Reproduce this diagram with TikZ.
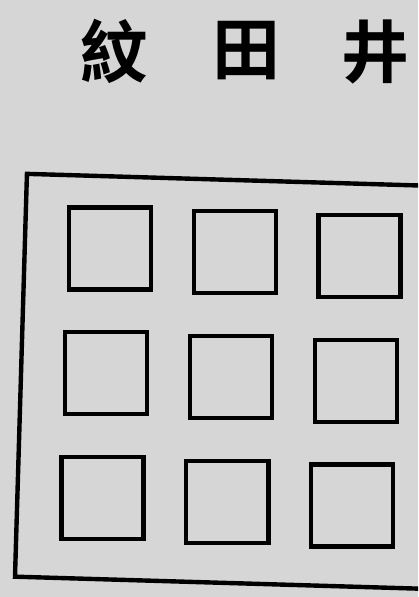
\documentclass[tikz,border=0pt]{standalone}
\usepackage{fontspec}
\newfontfamily\cjk{Noto Sans CJK TC}[BoldFont={Noto Sans CJK TC Bold}]
\usepackage{tikz}

\definecolor{paper}{RGB}{214,214,214}

\begin{document}
\begin{tikzpicture}[x=0.5pt,y=-0.5pt,
  title/.style={font=\cjk\bfseries\fontsize{34}{34}\selectfont,inner sep=0pt},
  cell/.style={draw,line width=2.2pt,minimum size=41pt,inner sep=0pt}]
  \def\W{418}
  \def\H{597}
  \def\P{125}  % 方格间距
  \def\Cx{231}
  \def\Cy{377}

  % 背景
  \fill[paper] (0,0) rectangle (\W,\H);
  \useasboundingbox (0,0) rectangle (\W,\H);
  \clip (0,0) rectangle (\W,\H);

  % 标题
  \node[title] (wen)  at (114,51) {紋};
  \node[title] (tian) at (246,51) {田};
  \node[title] (jing) at (375,52) {井};

  % ================= 外框与九格 (略有倾斜) =================
  \begin{scope}[rotate around={-1.7:(\Cx,\Cy)}]
    \draw[line width=2.2pt] (450,180) -- (21,180) -- (21,583) -- (450,583);
    \foreach \r in {-1,0,1} {
      \foreach \c in {-1,0,1} {
        \node[cell] (sq\r\c) at (\Cx+\c*\P,\Cy+\r*\P) {};
      }
    }
  \end{scope}
\end{tikzpicture}
\end{document}
